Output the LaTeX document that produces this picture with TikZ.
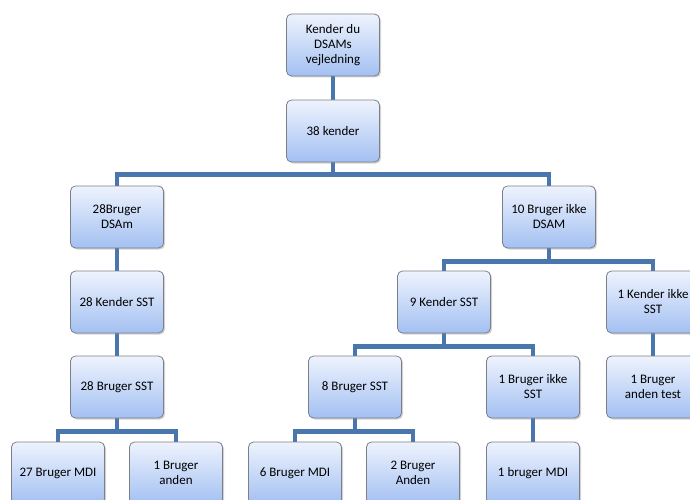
\documentclass[tikz,border=0pt]{standalone}
\usepackage{fontspec}
\setmainfont{Carlito}
\usepackage{xcolor}
\usepackage{tikz}
\usetikzlibrary{shadows, backgrounds}

\definecolor{boxtop}{HTML}{EEF3FD}
\definecolor{boxbot}{HTML}{A3C0F2}
\definecolor{boxline}{HTML}{7A7F88}
\definecolor{linkblue}{HTML}{4A76AE}

\begin{document}
\begin{tikzpicture}[x=1pt, y=-1pt,
  box/.style={draw=boxline, line width=0.8pt, rounded corners=5pt,
    top color=boxtop, bottom color=boxbot,
    drop shadow={shadow xshift=1.5pt, shadow yshift=-1.5pt, opacity=0.35},
    minimum width=93pt, minimum height=62pt, align=center,
    font=\fontsize{13}{15}\selectfont, inner sep=2pt},
  link/.style={draw=linkblue, line width=4.5pt}]
  \useasboundingbox (0,0) rectangle (690,500);
  \clip (0,0) rectangle (690,500);

  \node[box] (root) at (333,45) {Kender du\\DSAMs\\vejledning};
  \node[box] (kender) at (333,131) {38 kender};
  \node[box] (brugerDSAM) at (117,217) {28Bruger\\DSAm};
  \node[box] (ikkeDSAM) at (549,217) {10 Bruger ikke\\DSAM};
  \node[box] (kenderSST) at (117,302) {28 Kender SST};
  \node[box] (kender9) at (444,302) {9 Kender SST};
  \node[box] (kenderIkke) at (653,302) {1 Kender ikke\\SST};
  \node[box] (brugerSST) at (117,387) {28 Bruger SST};
  \node[box] (bruger8) at (355,387) {8 Bruger SST};
  \node[box] (brugerIkke) at (533,387) {1 Bruger ikke\\SST};
  \node[box] (andenTest) at (653,387) {1 Bruger\\anden test};
  \node[box] (mdi27) at (58,473) {27 Bruger MDI};
  \node[box] (anden1) at (176,473) {1 Bruger\\anden};
  \node[box] (mdi6) at (295,473) {6 Bruger MDI};
  \node[box] (anden2) at (413,473) {2 Bruger\\Anden};
  \node[box] (mdi1) at (533,473) {1 bruger MDI};

  % elbow connectors behind the boxes
  \begin{scope}[on background layer]
    \draw[link] (root) -- (kender);
    \draw[link] (kender.south) -- ++(0,12) -| (brugerDSAM.north);
    \draw[link] (kender.south) -- ++(0,12) -| (ikkeDSAM.north);
    \draw[link] (brugerDSAM) -- (kenderSST);
    \draw[link] (kenderSST) -- (brugerSST);
    \draw[link] (ikkeDSAM.south) -- ++(0,13) -| (kender9.north);
    \draw[link] (ikkeDSAM.south) -- ++(0,13) -| (kenderIkke.north);
    \draw[link] (kenderIkke) -- (andenTest);
    \draw[link] (kender9.south) -- ++(0,13) -| (bruger8.north);
    \draw[link] (kender9.south) -- ++(0,13) -| (brugerIkke.north);
    \draw[link] (brugerIkke) -- (mdi1);
    \draw[link] (brugerSST.south) -- ++(0,13) -| (mdi27.north);
    \draw[link] (brugerSST.south) -- ++(0,13) -| (anden1.north);
    \draw[link] (bruger8.south) -- ++(0,13) -| (mdi6.north);
    \draw[link] (bruger8.south) -- ++(0,13) -| (anden2.north);
  \end{scope}
\end{tikzpicture}
\end{document}
